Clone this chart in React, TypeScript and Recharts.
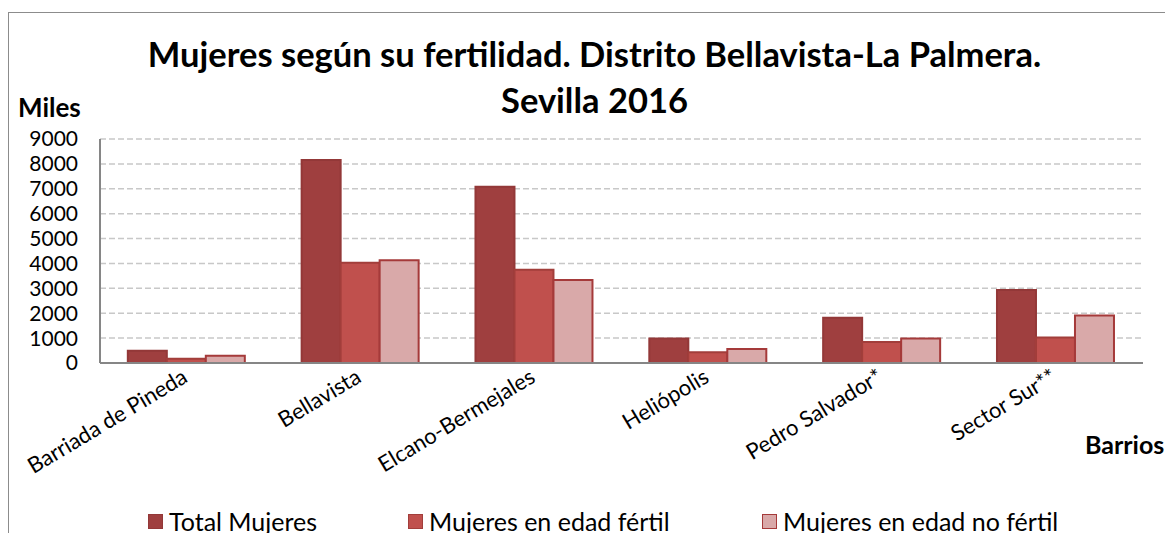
import React from "react";
import { BarChart, Bar, XAxis, YAxis, CartesianGrid, Legend } from "recharts";

const categories = ["Barriada de Pineda", "Bellavista", "Elcano-Bermejales", "Heliópolis", "Pedro Salvador*", "Sector Sur**"];
const totalMujeres = [490, 8160, 7080, 980, 1820, 2930];
const edadFertil = [170, 4030, 3750, 430, 840, 1020];
const edadNoFertil = [290, 4130, 3330, 560, 980, 1910];
const yTicks = [0, 1000, 2000, 3000, 4000, 5000, 6000, 7000, 8000, 9000];
const seriesNames = ["Total Mujeres", "Mujeres en edad fértil", "Mujeres en edad no fértil"];

const data = categories.map((c, i) => ({
  name: c,
  total: totalMujeres[i],
  fertil: edadFertil[i],
  noFertil: edadNoFertil[i],
}));

const FONT = "Lato, 'DejaVu Sans', sans-serif";
const colors = ["#9F3F3F", "#C0504D", "#D9A9A9"];
const strokes = ["#933838", "#A23E3B", "#A53A3A"];

const XTick = (props: any) => {
  const { x, y, payload } = props;
  return (
    <g transform={`translate(${x + 2},${y + 10})`}>
      <text transform="rotate(-31)" textAnchor="end" fill="#000" fontSize={22} fontFamily={FONT}>
        {payload.value}
      </text>
    </g>
  );
};

const legendX = [140, 400, 754];
const LegendContent = () => (
  <div style={{ position: "relative", height: 30, width: 1157 }}>
    {seriesNames.map((n, i) => (
      <div key={n} style={{ position: "absolute", left: legendX[i], top: 0, display: "flex", alignItems: "center", height: 30 }}>
        <span style={{ display: "inline-block", width: 13, height: 13, background: colors[i], border: `1.5px solid ${strokes[i]}`, marginRight: 6 }} />
        <span style={{ fontFamily: FONT, fontSize: 25, color: "#000", lineHeight: "30px", whiteSpace: "nowrap" }}>{n}</span>
      </div>
    ))}
  </div>
);

export default function App() {
  return (
    <div style={{ position: "relative", width: 1157, height: 533, marginBottom: -8, background: "#fff" }}>
      <div style={{ position: "absolute", left: 0, top: 4, width: 1157, height: 529, borderTop: "1px solid #8c8c8c", borderLeft: "1px solid #8c8c8c", boxSizing: "border-box" }} />
      <div style={{ position: "absolute", left: 8, width: 1157, top: 23, textAlign: "center", fontFamily: FONT, fontWeight: 700, fontSize: 34.5, lineHeight: "46px", color: "#000" }}>
        Mujeres según su fertilidad. Distrito Bellavista-La Palmera.
        <br />
        Sevilla 2016
      </div>
      <div style={{ position: "absolute", left: 10, top: 83, fontFamily: FONT, fontWeight: 700, fontSize: 26, color: "#000" }}>Miles</div>
      <div style={{ position: "absolute", left: 1077, top: 421, fontFamily: FONT, fontWeight: 700, fontSize: 25, color: "#000", whiteSpace: "nowrap" }}>Barrios</div>
      <BarChart
        width={1157}
        height={533}
        data={data}
        margin={{ top: 131, right: 22, left: 32, bottom: 28 }}
        barCategoryGap="16%"
        barGap={0}
        style={{ position: "absolute", left: 0, top: 0 }}
      >
        <CartesianGrid vertical={false} stroke="#c8c8c8" strokeDasharray="6 3" strokeWidth={1.5} />
        <XAxis
          dataKey="name"
          tick={<XTick />}
          tickLine={false}
          axisLine={{ stroke: "#868686", strokeWidth: 2 }}
          height={120}
          interval={0}
        />
        <YAxis
          domain={[0, 9000]}
          ticks={yTicks}
          interval={0}
          width={60}
          tickLine={false}
          axisLine={{ stroke: "#868686", strokeWidth: 2 }}
          tick={{ fill: "#000", fontSize: 21, fontFamily: FONT }}
          tickMargin={16}
        />
        <Legend verticalAlign="bottom" height={30} content={<LegendContent />} wrapperStyle={{ left: 0, bottom: 5, width: 1157 }} />
        <Bar dataKey="total" name={seriesNames[0]} fill={colors[0]} stroke={strokes[0]} strokeWidth={2} isAnimationActive={false} />
        <Bar dataKey="fertil" name={seriesNames[1]} fill={colors[1]} stroke={strokes[1]} strokeWidth={2} isAnimationActive={false} />
        <Bar dataKey="noFertil" name={seriesNames[2]} fill={colors[2]} stroke={strokes[2]} strokeWidth={2} isAnimationActive={false} />
      </BarChart>
    </div>
  );
}
